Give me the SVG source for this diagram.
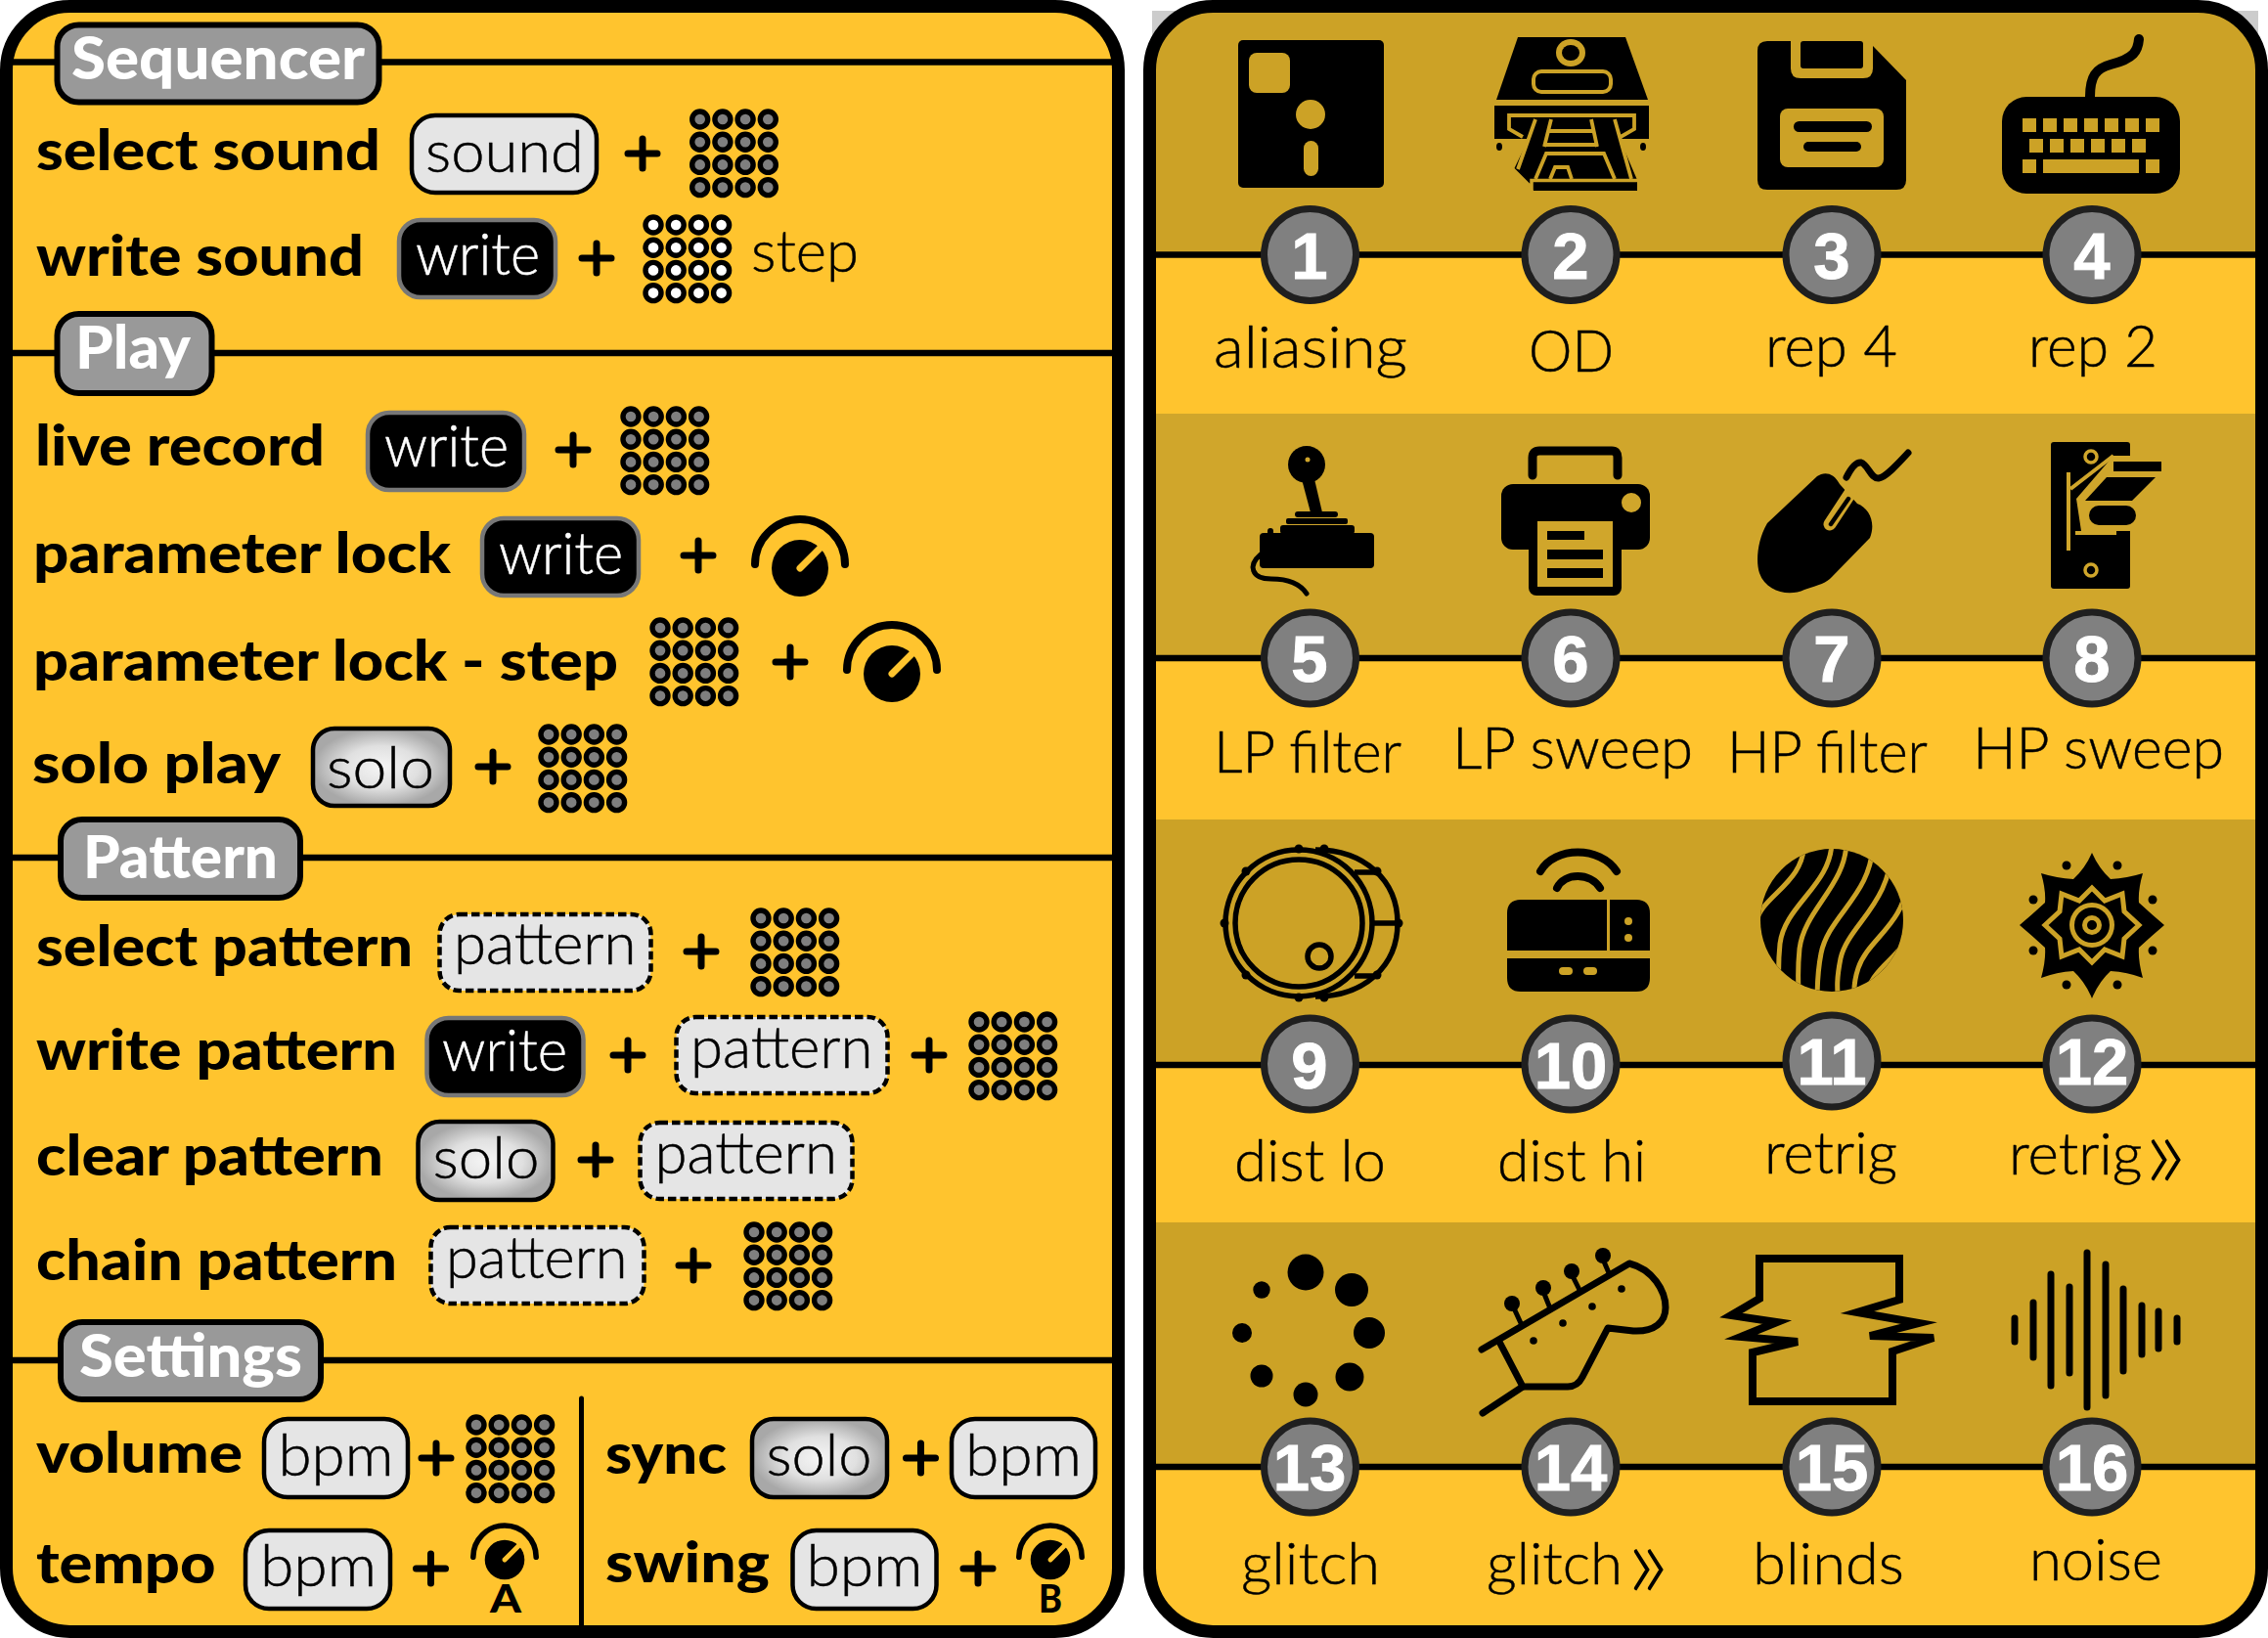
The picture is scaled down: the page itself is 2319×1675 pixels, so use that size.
<svg xmlns="http://www.w3.org/2000/svg" width="2319" height="1675" viewBox="0 0 2319 1675">
<style>
text{font-family:Lato,"Noto Sans",sans-serif}
.b{font-weight:900;font-size:58px;fill:#000}
.t{font-weight:900;font-size:61px;fill:#fff;transform:translateY(1.5px)}
.l{font-weight:300;font-size:60px;fill:#000;stroke:#000;stroke-width:.5;transform:translateY(2.5px)}
.w{font-weight:300;font-size:60px;fill:#fff;stroke:#fff;stroke-width:.5;transform:translateY(2px)}
.n{font-family:"Liberation Sans",Arial,sans-serif;font-weight:700;font-size:67px;fill:#fff;stroke:#fff;stroke-width:1;text-anchor:middle}
.tag{fill:#999;stroke:#000;stroke-width:6}
.key{fill:#e5e5e5;stroke:#000;stroke-width:4.5}
.dash{fill:#e5e5e5;stroke:#000;stroke-width:4.5;stroke-dasharray:8.5 4}
.wk{fill:#000;stroke:#777;stroke-width:4.5}
.so{fill:url(#solo);stroke:#000;stroke-width:4.5}
.hr{stroke:#000;stroke-width:6.5;fill:none}
.pl{stroke:#000;stroke-width:7;stroke-linecap:round;fill:none}
.dk{fill:#cca226}
.bg{fill:#ffc42e}
.numc{fill:#808080;stroke:#1f1f1f;stroke-width:7}
.ic{fill:#000}
.cut{fill:#cca226}
.cut2{fill:#d0a62b}
.lk{fill:none;stroke:#000;stroke-linecap:round;stroke-linejoin:round}
.chev{font-size:110px;font-weight:300;stroke:none}
</style>
<defs>
<radialGradient id="solo"><stop offset="0" stop-color="#f5f5f5"/><stop offset=".55" stop-color="#e0e0e0"/><stop offset="1" stop-color="#a8a8a8"/></radialGradient>
<clipPath id="rp"><rect x="1175.5" y="6.5" width="1137" height="1662" rx="65"/></clipPath>
<clipPath id="ball"><circle cx="1873" cy="941" r="73"/></clipPath>
<g id="grid" stroke="#000" stroke-width="5.4">
<circle cx="0" cy="0" r="8"/><circle cx="23.2" cy="0" r="8"/><circle cx="46.4" cy="0" r="8"/><circle cx="69.6" cy="0" r="8"/>
<circle cx="0" cy="23.2" r="8"/><circle cx="23.2" cy="23.2" r="8"/><circle cx="46.4" cy="23.2" r="8"/><circle cx="69.6" cy="23.2" r="8"/>
<circle cx="0" cy="46.4" r="8"/><circle cx="23.2" cy="46.4" r="8"/><circle cx="46.4" cy="46.4" r="8"/><circle cx="69.6" cy="46.4" r="8"/>
<circle cx="0" cy="69.6" r="8"/><circle cx="23.2" cy="69.6" r="8"/><circle cx="46.4" cy="69.6" r="8"/><circle cx="69.6" cy="69.6" r="8"/>
</g>
<g id="knob">
<circle cx="0" cy="0" r="29" fill="#000"/>
<path d="M-46,-4A46,46 0 0 1 46,-4" fill="none" stroke="#000" stroke-width="8" stroke-linecap="round"/>
<path d="M0,0L25,-25" stroke="#ffc42e" stroke-width="7" stroke-linecap="round"/>
</g>
<path id="plus" d="M-15,0H15M0,-15V15"/>
</defs>
<rect width="2319" height="1675" fill="#fff"/>
<g id="left-panel">
<rect class="bg" x="6.5" y="6.5" width="1137" height="1662" rx="65"/>
</g>
<g id="connectors">
<path class="hr" d="M10,63.5H1140M10,361H1140M10,877H1140M10,1391H1140"/>
<path d="M594.5,1430V1672" stroke="#000" stroke-width="5" fill="none" stroke-linecap="round"/>
</g>
<rect x="6.5" y="6.5" width="1137" height="1662" rx="65" fill="none" stroke="#000" stroke-width="13"/>

<g id="sequencer">
<rect class="tag" x="58.5" y="25.5" width="329" height="79" rx="22"/>
<text class="t" x="73" y="79" textLength="300" lengthAdjust="spacingAndGlyphs">Sequencer</text>
<text class="b" x="37" y="174" textLength="352" lengthAdjust="spacingAndGlyphs">select sound</text>
<rect class="key" x="421" y="118" width="189" height="79" rx="24"/>
<text class="l" x="435" y="173" textLength="162" lengthAdjust="spacingAndGlyphs">sound</text>
<use href="#plus" class="pl" x="657" y="157"/>
<use href="#grid" x="715.7" y="122" fill="#7f7f7f"/>
<text class="b" x="37" y="282" textLength="335" lengthAdjust="spacingAndGlyphs">write sound</text>
<rect class="wk" x="408" y="225" width="160" height="79" rx="22"/>
<text class="w" x="425" y="279" textLength="127" lengthAdjust="spacingAndGlyphs">write</text>
<use href="#plus" class="pl" x="610" y="264"/>
<use href="#grid" x="668" y="230" fill="#fff"/>
<text class="l" x="768" y="275" textLength="110" lengthAdjust="spacingAndGlyphs">step</text>
</g>

<g id="play">
<rect class="tag" x="58.5" y="321" width="158" height="81" rx="22"/>
<text class="t" x="77" y="375" textLength="118" lengthAdjust="spacingAndGlyphs">Play</text>
<text class="b" x="36" y="476" textLength="296" lengthAdjust="spacingAndGlyphs">live record</text>
<rect class="wk" x="376" y="422" width="160" height="79" rx="22"/>
<text class="w" x="393" y="475" textLength="127" lengthAdjust="spacingAndGlyphs">write</text>
<use href="#plus" class="pl" x="586" y="460"/>
<use href="#grid" x="645" y="426" fill="#7f7f7f"/>
<text class="b" x="34" y="586" textLength="427" lengthAdjust="spacingAndGlyphs">parameter lock</text>
<rect class="wk" x="493" y="530" width="160" height="79" rx="22"/>
<text class="w" x="510" y="585" textLength="127" lengthAdjust="spacingAndGlyphs">write</text>
<use href="#plus" class="pl" x="714" y="568"/>
<use href="#knob" x="818" y="581"/>
<text class="b" x="34" y="696" textLength="598" lengthAdjust="spacingAndGlyphs">parameter lock - step</text>
<use href="#grid" x="675" y="642" fill="#7f7f7f"/>
<use href="#plus" class="pl" x="808" y="677"/>
<use href="#knob" x="912" y="689"/>
<text class="b" x="33" y="801" textLength="254" lengthAdjust="spacingAndGlyphs">solo play</text>
<rect class="so" x="320" y="745" width="140" height="79" rx="22"/>
<text class="l" x="334" y="803" textLength="110" lengthAdjust="spacingAndGlyphs">solo</text>
<use href="#plus" class="pl" x="504" y="784"/>
<use href="#grid" x="561" y="751" fill="#7f7f7f"/>
</g>

<g id="pattern">
<rect class="tag" x="62" y="838" width="245" height="80" rx="22"/>
<text class="t" x="85" y="896" textLength="199" lengthAdjust="spacingAndGlyphs">Pattern</text>
<text class="b" x="37" y="988" textLength="385" lengthAdjust="spacingAndGlyphs">select pattern</text>
<rect class="dash" x="449.5" y="935" width="216" height="78" rx="20"/>
<text class="l" x="464" y="983" textLength="186.5" lengthAdjust="spacingAndGlyphs">pattern</text>
<use href="#plus" class="pl" x="717" y="973"/>
<use href="#grid" x="778" y="939" fill="#7f7f7f"/>
<text class="b" x="37" y="1094" textLength="369" lengthAdjust="spacingAndGlyphs">write pattern</text>
<rect class="wk" x="436.5" y="1041" width="160" height="79" rx="22"/>
<text class="w" x="452" y="1093" textLength="128" lengthAdjust="spacingAndGlyphs">write</text>
<use href="#plus" class="pl" x="642" y="1079"/>
<rect class="dash" x="691.5" y="1040" width="216" height="78" rx="20"/>
<text class="l" x="706" y="1089" textLength="186.5" lengthAdjust="spacingAndGlyphs">pattern</text>
<use href="#plus" class="pl" x="950" y="1079"/>
<use href="#grid" x="1001" y="1045" fill="#7f7f7f"/>
<text class="b" x="37" y="1202" textLength="355" lengthAdjust="spacingAndGlyphs">clear pattern</text>
<rect class="so" x="427.5" y="1147" width="138" height="80" rx="22"/>
<text class="l" x="442.5" y="1202" textLength="109" lengthAdjust="spacingAndGlyphs">solo</text>
<use href="#plus" class="pl" x="609" y="1186"/>
<rect class="dash" x="654.5" y="1148" width="217" height="78" rx="20"/>
<text class="l" x="669.5" y="1197" textLength="186.5" lengthAdjust="spacingAndGlyphs">pattern</text>
<text class="b" x="37" y="1309" textLength="369" lengthAdjust="spacingAndGlyphs">chain pattern</text>
<rect class="dash" x="440.5" y="1255" width="218" height="78" rx="20"/>
<text class="l" x="456" y="1304" textLength="185.5" lengthAdjust="spacingAndGlyphs">pattern</text>
<use href="#plus" class="pl" x="709" y="1294"/>
<use href="#grid" x="771" y="1260" fill="#7f7f7f"/>
</g>

<g id="settings">
<rect class="tag" x="62" y="1352" width="266" height="79" rx="22"/>
<text class="t" x="81" y="1406" textLength="228" lengthAdjust="spacingAndGlyphs">Settings</text>
<text class="b" x="37" y="1506" textLength="211" lengthAdjust="spacingAndGlyphs">volume</text>
<rect class="key" x="270" y="1451" width="147" height="80" rx="24"/>
<text class="l" x="284.5" y="1506" textLength="118" lengthAdjust="spacingAndGlyphs">bpm</text>
<use href="#plus" class="pl" x="446" y="1491"/>
<use href="#grid" x="487" y="1457" fill="#7f7f7f"/>
<text class="b" x="37" y="1619" textLength="183.5" lengthAdjust="spacingAndGlyphs">tempo</text>
<rect class="key" x="251" y="1565" width="148" height="80" rx="24"/>
<text class="l" x="266" y="1619" textLength="119" lengthAdjust="spacingAndGlyphs">bpm</text>
<use href="#plus" class="pl" x="440.5" y="1604"/>
<use href="#knob" transform="translate(516,1595) scale(.7)"/>
<text x="501" y="1649" font-weight="900" font-size="40" textLength="32" lengthAdjust="spacingAndGlyphs">A</text>
<text class="b" x="619" y="1507" textLength="124" lengthAdjust="spacingAndGlyphs">sync</text>
<rect class="so" x="769" y="1451" width="138" height="80" rx="22"/>
<text class="l" x="783.5" y="1506" textLength="108" lengthAdjust="spacingAndGlyphs">solo</text>
<use href="#plus" class="pl" x="941.5" y="1491"/>
<rect class="key" x="973" y="1451" width="147" height="80" rx="24"/>
<text class="l" x="987" y="1506" textLength="119" lengthAdjust="spacingAndGlyphs">bpm</text>
<text class="b" x="619" y="1618" textLength="168" lengthAdjust="spacingAndGlyphs">swing</text>
<rect class="key" x="810.5" y="1565" width="147" height="80" rx="24"/>
<text class="l" x="824.5" y="1619" textLength="119" lengthAdjust="spacingAndGlyphs">bpm</text>
<use href="#plus" class="pl" x="1000" y="1604"/>
<use href="#knob" transform="translate(1074,1595) scale(.7)"/>
<text x="1062" y="1649" font-weight="900" font-size="40" textLength="24" lengthAdjust="spacingAndGlyphs">B</text>
</g>

<rect x="1178" y="11" width="1131" height="120" fill="#ccc"/>
<g id="right-panel" clip-path="url(#rp)">
<rect class="bg" x="1170" y="0" width="1149" height="1675"/>
<rect class="dk" x="1170" y="0" width="1149" height="260"/>
<rect x="1170" y="423" width="1149" height="250" fill="#d0a62b"/>
<rect class="dk" x="1170" y="838" width="1149" height="250"/>
<rect class="dk" x="1170" y="1250" width="1149" height="250"/>
<path class="hr" d="M1170,260.5H2319M1170,673H2319M1170,1089H2319M1170,1500H2319"/>
</g>
<rect x="1175.5" y="6.5" width="1137" height="1662" rx="65" fill="none" stroke="#000" stroke-width="13"/>

<g id="fx-1">
<rect class="ic" x="1266" y="41" width="149" height="151" rx="5"/>
<rect class="cut" x="1277" y="54" width="42" height="41" rx="8"/><circle class="cut" cx="1340" cy="117" r="15"/><rect class="cut" x="1333" y="144" width="15" height="36" rx="7.5"/>
<circle class="numc" cx="1339.5" cy="260.5" r="47"/><text class="n" x="1339" y="285">1</text>
<text class="l" x="1241" y="373" textLength="198" lengthAdjust="spacingAndGlyphs">aliasing</text>
</g>
<g id="fx-2">
<path class="ic" d="M1552,38H1662L1685,102H1530Z"/>
<ellipse class="cut" cx="1606" cy="54" rx="15" ry="14"/><ellipse class="ic" cx="1606" cy="54" rx="9" ry="8"/>
<rect x="1568" y="73" width="79" height="21" rx="8" fill="#000" stroke="#cca226" stroke-width="4"/>
<path class="ic" d="M1528,108H1686V142H1656L1674,184V195H1568L1548,173L1563,142H1528Z"/>
<path d="M1557,140L1543,132V118H1671V132L1657,140M1586,122L1579,150M1627,122L1633,150M1583,134H1630M1579,148H1634M1570,183L1581,157H1640L1651,183M1585,183L1590,171H1603L1607,183M1570,122L1552,173M1651,122L1668,183" fill="none" stroke="#cca226" stroke-width="3.8"/>
<path d="M1546,172L1566,192V184.5H1676" fill="none" stroke="#cca226" stroke-width="3.5"/>
<ellipse class="ic" cx="1533" cy="150" rx="3" ry="4"/><ellipse class="ic" cx="1680" cy="150" rx="3" ry="4"/>
<circle class="numc" cx="1606" cy="260.5" r="47"/><text class="n" x="1606" y="285">2</text>
<text class="l" x="1563" y="377" textLength="87" lengthAdjust="spacingAndGlyphs">OD</text>
</g>
<g id="fx-3">
<path class="ic" d="M1807,42H1910L1915,47L1949,82V184Q1949,194 1939,194H1807Q1797,194 1797,184V52Q1797,42 1807,42Z"/>
<path class="cut" d="M1831,42H1915V70Q1915,80 1905,80H1841Q1831,80 1831,70Z"/><rect class="ic" x="1841" y="42" width="64" height="28" rx="3"/>
<rect class="cut" x="1820" y="111" width="106" height="60" rx="8"/>
<rect class="ic" x="1834" y="124" width="80" height="11" rx="5.5"/><rect class="ic" x="1844" y="145" width="59" height="10" rx="5"/>
<circle class="numc" cx="1873" cy="260.5" r="47"/><text class="n" x="1873" y="285">3</text>
<text class="l" x="1805" y="372" textLength="135" lengthAdjust="spacingAndGlyphs">rep 4</text>
</g>
<g id="fx-4">
<rect class="ic" x="2047" y="99" width="182" height="99" rx="25"/>
<path class="lk" stroke-width="10" d="M2137,99C2137,78 2143,70 2158,66C2182,60 2186,52 2187,40"/>
<path class="cut" d="M2068,121h14v14h-14zM2089,121h14v14h-14zM2110,121h14v14h-14zM2131,121h14v14h-14zM2152,121h14v14h-14zM2173,121h14v14h-14zM2194,121h14v14h-14zM2075,142h14v14h-14zM2096,142h14v14h-14zM2117,142h14v14h-14zM2138,142h14v14h-14zM2159,142h14v14h-14zM2180,142h14v14h-14zM2068,163h14v14h-14zM2089,163h98v14h-98zM2194,163h14v14h-14z"/>
<circle class="numc" cx="2139" cy="260.5" r="47"/><text class="n" x="2139" y="285">4</text>
<text class="l" x="2074" y="372" textLength="132" lengthAdjust="spacingAndGlyphs">rep 2</text>
</g>
<g id="fx-5">
<circle class="ic" cx="1336" cy="475" r="19"/><path class="ic" d="M1331,490H1344L1352,524H1340Z"/>
<rect class="ic" x="1324" y="523" width="44" height="6" rx="3"/><rect class="ic" x="1315" y="530" width="63" height="6" rx="2"/><rect class="ic" x="1309" y="537" width="76" height="9" rx="3"/>
<rect class="ic" x="1288" y="545" width="117" height="36" rx="4"/><rect class="ic" x="1296" y="540" width="6" height="8" rx="3"/>
<path class="lk" stroke-width="5" d="M1289,567C1276,578 1279,592 1300,592C1320,592 1330,598 1336,607"/>
<circle cx="1337" cy="470" r="2.5" fill="#d0a62b"/>
<circle class="numc" cx="1339.5" cy="673" r="47"/><text class="n" x="1339" y="697">5</text>
<text class="l" x="1241" y="787" textLength="192" lengthAdjust="spacingAndGlyphs">LP filter</text>
</g>
<g id="fx-6">
<path class="lk" stroke-width="9" stroke-linecap="butt" d="M1567,486V468Q1567,461 1574,461H1648Q1654,461 1654,468V486"/>
<rect class="ic" x="1535" y="495" width="152" height="67" rx="12"/><circle class="cut2" cx="1668" cy="514" r="10"/>
<rect class="ic" x="1563" y="530" width="95" height="79" rx="8"/><rect class="cut2" x="1572" y="533" width="77" height="67"/>
<rect class="ic" x="1582" y="543" width="38" height="9"/><rect class="ic" x="1582" y="562" width="57" height="10"/><rect class="ic" x="1582" y="581" width="57" height="10"/>
<circle class="numc" cx="1606" cy="673" r="47"/><text class="n" x="1606" y="697">6</text>
<text class="l" x="1485" y="783" textLength="246" lengthAdjust="spacingAndGlyphs">LP sweep</text>
</g>
<g id="fx-7">
<path class="ic" d="M1858,487L1807,535C1797,552 1795,574 1799,586C1806,606 1830,610 1845,603C1860,598 1868,596 1873,590L1912,550C1918,535 1912,520 1899,515L1881,495C1875,483 1865,482 1858,487Z"/>
<path d="M1892,504L1871,536" stroke="#d0a62b" stroke-width="13" stroke-linecap="round"/><path d="M1890,510L1872,536" stroke="#000" stroke-width="4.5" stroke-linecap="round"/>
<path class="lk" stroke-width="7" d="M1888,488C1892,480 1897,472 1903,473C1910,475 1913,490 1921,489C1928,488 1940,475 1951,463"/>
<circle class="numc" cx="1873" cy="673" r="47"/><text class="n" x="1873" y="697">7</text>
<text class="l" x="1766" y="787" textLength="205" lengthAdjust="spacingAndGlyphs">HP filter</text>
</g>
<g id="fx-8">
<rect class="ic" x="2097" y="452" width="81" height="150" rx="3"/>
<path class="cut2" d="M2179,466H2161L2123,510L2128,543H2179Z"/>
<path d="M2115,483V563M2117,500L2161,466M2122,545H2162V541" fill="none" stroke="#d0a62b" stroke-width="4"/>
<rect class="ic" x="2161" y="472" width="49" height="10"/><path class="ic" d="M2154,488H2204L2180,512H2132Z"/><rect class="ic" x="2136" y="517" width="48" height="20" rx="10"/>
<circle cx="2138" cy="467" r="6" fill="none" stroke="#d0a62b" stroke-width="3.5"/><circle cx="2138" cy="583" r="6" fill="none" stroke="#d0a62b" stroke-width="3.5"/>
<circle class="numc" cx="2139" cy="673" r="47"/><text class="n" x="2139" y="697">8</text>
<text class="l" x="2017" y="783" textLength="257" lengthAdjust="spacingAndGlyphs">HP sweep</text>
</g>
<g id="fx-9">
<g fill="none" stroke="#000" stroke-width="5.5">
<circle cx="1328" cy="944" r="75"/><circle cx="1328" cy="944" r="65"/>
<path d="M1345,869C1395,869 1429,900 1429,944C1429,988 1395,1019 1345,1019"/>
<path d="M1385,892H1408M1403,944H1430M1385,998H1408"/>
<circle cx="1349" cy="978" r="12"/></g>
<g class="ic"><circle cx="1328" cy="868" r="4.5"/><circle cx="1354" cy="868" r="4.5"/><circle cx="1328" cy="1020" r="4.5"/><circle cx="1354" cy="1020" r="4.5"/><circle cx="1274" cy="891" r="4.5"/><circle cx="1274" cy="997" r="4.5"/><circle cx="1408" cy="891" r="4.5"/><circle cx="1408" cy="997" r="4.5"/><circle cx="1252" cy="944" r="4.5"/><circle cx="1430" cy="944" r="4.5"/></g>
<circle class="numc" cx="1339.5" cy="1088" r="47"/><text class="n" x="1339" y="1113">9</text>
<text class="l" x="1262" y="1205" textLength="155" lengthAdjust="spacingAndGlyphs">dist lo</text>
</g>
<g id="fx-10">
<path class="lk" stroke-width="8" d="M1575,891C1590,865 1636,865 1653,891M1592,908C1600,892 1626,892 1636,908"/>
<path class="ic" d="M1555,920H1673Q1687,920 1687,934V972H1541V934Q1541,920 1555,920ZM1541,980H1687V1000Q1687,1014 1673,1014H1555Q1541,1014 1541,1000Z"/>
<rect class="cut" x="1643" y="920" width="3" height="52"/><circle class="cut" cx="1665" cy="942" r="4"/><circle class="cut" cx="1665" cy="959" r="4"/><rect class="cut" x="1594" y="989" width="14" height="8" rx="4"/><rect class="cut" x="1619" y="989" width="14" height="8" rx="4"/>
<circle class="numc" cx="1606" cy="1088" r="47"/><text class="n" x="1606" y="1113">10</text>
<text class="l" x="1531" y="1205" textLength="152" lengthAdjust="spacingAndGlyphs">dist hi</text>
</g>
<g id="fx-11">
<circle class="ic" cx="1873" cy="941" r="73"/>
<g clip-path="url(#ball)" fill="none" stroke="#cca226" stroke-width="5">
<path d="M1845,860C1845,905 1800,915 1795,945"/>
<path d="M1873,860C1873,905 1825,925 1820,965C1818,985 1818,1000 1820,1020"/>
<path d="M1888,860C1888,905 1845,930 1840,970C1838,990 1838,1005 1840,1025"/>
<path d="M1915,860C1915,915 1870,935 1862,975C1858,995 1858,1010 1858,1025"/>
<path d="M1935,860C1935,925 1890,945 1882,980C1878,1000 1878,1010 1880,1025"/>
<path d="M1950,900C1948,945 1910,960 1900,990C1895,1005 1895,1015 1897,1025"/>
<path d="M1955,950C1940,985 1915,985 1905,1025"/>
</g>
<circle class="numc" cx="1873" cy="1085" r="47"/><text class="n" x="1873" y="1109">11</text>
<text class="l" x="1804" y="1197" textLength="136" lengthAdjust="spacingAndGlyphs">retrig</text>
</g>
<g id="fx-12">
<path class="ic" d="M2139,872Q2146,888 2158,899Q2175,898 2191,893Q2186,910 2187,923Q2200,935 2213,946Q2200,957 2187,969Q2186,982 2191,1000Q2175,994 2158,993Q2146,1004 2139,1021Q2132,1004 2120,993Q2103,994 2087,1000Q2092,982 2091,969Q2078,957 2065,946Q2078,935 2091,923Q2092,910 2087,893Q2103,898 2120,899Q2132,888 2139,872Z"/>
<path d="M2139,908L2152,921L2170,914L2172,932L2187,946L2172,960L2170,978L2152,971L2139,984L2126,971L2108,978L2106,960L2091,946L2106,932L2108,914L2126,921Z" fill="#000" stroke="#cca226" stroke-width="5"/>
<circle class="cut" cx="2139" cy="946" r="23"/><circle class="ic" cx="2139" cy="946" r="18"/><circle class="cut" cx="2139" cy="946" r="10"/><circle class="ic" cx="2139" cy="946" r="5"/>
<g class="ic"><circle cx="2113" cy="885" r="4.5"/><circle cx="2165" cy="885" r="4.5"/><circle cx="2079" cy="920" r="4.5"/><circle cx="2201" cy="920" r="4.5"/><circle cx="2079" cy="972" r="4.5"/><circle cx="2201" cy="972" r="4.5"/><circle cx="2113" cy="1007" r="4.5"/><circle cx="2165" cy="1007" r="4.5"/></g>
<circle class="numc" cx="2139" cy="1088" r="47"/><text class="n" x="2139" y="1109">12</text>
<text class="l" x="2054" y="1198">retrig<tspan class="chev" x="2192" dy="14">»</tspan></text>
</g>
<g id="fx-13">
<g class="ic"><circle cx="1335" cy="1301" r="18.5"/><circle cx="1382" cy="1319" r="17"/><circle cx="1400" cy="1363" r="16"/><circle cx="1380" cy="1408" r="14.5"/><circle cx="1335" cy="1426" r="12.5"/><circle cx="1290" cy="1407" r="11.5"/><circle cx="1270" cy="1363" r="10"/><circle cx="1290" cy="1319" r="8.7"/></g>
<circle class="numc" cx="1339.5" cy="1500" r="47"/><text class="n" x="1339" y="1524">13</text>
<text class="l" x="1269" y="1617" textLength="142" lengthAdjust="spacingAndGlyphs">glitch</text>
</g>
<g id="fx-14">
<g class="lk" stroke-width="7"><path d="M1515,1380L1666,1292C1690,1298 1703,1320 1703,1337C1703,1352 1692,1362 1670,1361L1644,1358L1618,1408Q1613,1418 1603,1418L1557,1418L1533,1372"/><path d="M1557,1418L1516,1445"/>
<path d="M1549,1340L1555,1353M1579,1323L1585,1338M1609,1307L1616,1321M1640,1290L1646,1304" stroke-width="5"/></g>
<g class="ic"><circle cx="1546" cy="1333" r="8"/><circle cx="1578" cy="1317" r="8"/><circle cx="1607" cy="1300" r="8"/><circle cx="1639" cy="1284" r="8"/><circle cx="1568" cy="1371" r="3.8"/><circle cx="1598" cy="1353" r="3.8"/><circle cx="1628" cy="1336" r="3.8"/><circle cx="1658" cy="1318" r="3.8"/></g>
<circle class="numc" cx="1606" cy="1500" r="47"/><text class="n" x="1606" y="1524">14</text>
<text class="l" x="1520" y="1617">glitch<tspan class="chev" x="1663" dy="14">»</tspan></text>
</g>
<g id="fx-15">
<path fill="none" stroke="#000" stroke-width="8" stroke-miterlimit="5" d="M1799,1287H1942V1329L1899,1342L1962,1353L1912,1366L1977,1368L1935,1382V1433H1792V1383L1838,1372L1780,1367L1817,1352L1770,1345L1799,1328V1287Z"/>
<circle class="numc" cx="1873" cy="1500" r="47"/><text class="n" x="1873" y="1524">15</text>
<text class="l" x="1792" y="1617" textLength="155" lengthAdjust="spacingAndGlyphs">blinds</text>
</g>
<g id="fx-16">
<path class="lk" stroke-width="7" d="M2060,1348V1372M2079,1332V1388M2097,1303V1417M2116,1316V1404M2134,1281V1439M2153,1293V1427M2171,1318V1402M2190,1335V1385M2207,1341V1379M2226,1348V1372"/>
<circle class="numc" cx="2139" cy="1500" r="47"/><text class="n" x="2139" y="1524">16</text>
<text class="l" x="2075" y="1613" textLength="136" lengthAdjust="spacingAndGlyphs">noise</text>
</g>
</svg>
